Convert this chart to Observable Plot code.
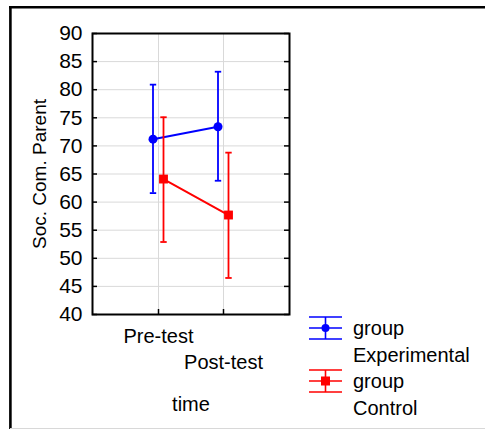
<!DOCTYPE html>
<html>
<head>
<meta charset="utf-8">
<script src="https://cdn.jsdelivr.net/npm/d3@7"></script>
<script src="https://cdn.jsdelivr.net/npm/@observablehq/plot@0.6"></script>
<style>
  html, body { margin: 0; padding: 0; background: white; }
  #chart { position: relative; width: 485px; height: 429px; }
</style>
</head>
<body>
<div id="chart"></div>
<script>
// ---- data ----
const times = ["Pre-test", "Post-test"];
const groups = ["Experimental", "Control"];
const expMean = [71.2, 73.4];
const expLo   = [61.6, 63.8];
const expHi   = [80.9, 83.2];
const ctlMean = [64.1, 57.7];
const ctlLo   = [52.9, 46.5];
const ctlHi   = [75.1, 68.8];
const yTicks  = [40, 45, 50, 55, 60, 65, 70, 75, 80, 85, 90];
const yTitle  = "Soc. Com. Parent";
const xTitle  = "time";

const colors = {Experimental: "#0000ff", Control: "#ff0000"};
const offsets = {Experimental: -5.5, Control: 5};
const symbols = {Experimental: "circle", Control: "square"};
const radii = {Experimental: 4.5, Control: 5};

const expRows = times.map((t, i) => ({time: t, group: "Experimental", mean: expMean[i], lo: expLo[i], hi: expHi[i]}));
const ctlRows = times.map((t, i) => ({time: t, group: "Control", mean: ctlMean[i], lo: ctlLo[i], hi: ctlHi[i]}));

const W = 485, H = 429;
const mL = 92, mR = 196, mT = 33, mB = 115;
const plotW = W - mL - mR, plotH = H - mT - mB;

const capSymbol = {
  draw(ctx, size) {
    const r = Math.sqrt(size / Math.PI);
    ctx.moveTo(-r, 0);
    ctx.lineTo(r, 0);
  }
};

function seriesMarks(rows, g) {
  const c = colors[g], dx = offsets[g];
  return [
    Plot.ruleX(rows, {x: "time", y1: "lo", y2: "hi", stroke: c, strokeWidth: 1.8, dx}),
    Plot.dot(rows, {x: "time", y: "hi", symbol: capSymbol, r: 3.2, stroke: c, strokeWidth: 1.8, dx}),
    Plot.dot(rows, {x: "time", y: "lo", symbol: capSymbol, r: 3.2, stroke: c, strokeWidth: 1.8, dx}),
    Plot.line(rows, {x: "time", y: "mean", stroke: c, strokeWidth: 2, dx}),
    Plot.dot(rows, {x: "time", y: "mean", symbol: symbols[g], r: radii[g], fill: c, stroke: "none", dx})
  ];
}

const font = "'Liberation Sans', Arial, sans-serif";

const chart = Plot.plot({
  width: W,
  height: H,
  marginLeft: mL,
  marginRight: mR,
  marginTop: mT,
  marginBottom: mB,
  style: {fontFamily: font, fontSize: "20px", color: "black", background: "white", overflow: "visible"},
  x: {type: "point", domain: times, padding: 1},
  y: {domain: [40, 90]},
  marks: [
    Plot.gridY(yTicks, {stroke: "#d9d9d9", strokeOpacity: 1}),
    Plot.gridX(times, {stroke: "#d9d9d9", strokeOpacity: 1}),
    Plot.tickY(yTicks, {y: d => d, insetRight: plotW - 5, stroke: "black", strokeWidth: 1.5}),
    Plot.tickY(yTicks, {y: d => d, insetLeft: plotW - 5, stroke: "black", strokeWidth: 1.5}),
    Plot.tickX(times, {x: d => d, insetTop: plotH - 5, stroke: "black", strokeWidth: 1.5}),
    Plot.axisY(yTicks, {tickSize: 0, tickPadding: 10, label: null, fontSize: 21}),
    Plot.axisX([times[0]], {tickSize: 0, tickPadding: 14, label: null, fontSize: 20}),
    Plot.axisX([times[1]], {tickSize: 0, tickPadding: 40, label: null, fontSize: 20}),
    Plot.text([yTitle], {frameAnchor: "left", textAnchor: "middle", rotate: -90, dx: -53, fontSize: 19}),
    Plot.text([xTitle], {frameAnchor: "bottom", textAnchor: "middle", dy: 82, lineAnchor: "top", fontSize: 20}),
    ...seriesMarks(expRows, "Experimental"),
    ...seriesMarks(ctlRows, "Control"),
    Plot.frame({stroke: "black", strokeWidth: 2})
  ]
});

const svg = d3.select(chart);
// outer panel border
svg.append("line").attr("x1", 9).attr("x2", W).attr("y1", 7.3).attr("y2", 7.3)
  .attr("stroke", "black").attr("stroke-width", 2.6);
svg.append("line").attr("x1", 10.4).attr("x2", 10.4).attr("y1", 6).attr("y2", H)
  .attr("stroke", "black").attr("stroke-width", 2.6);
svg.append("line").attr("x1", 10).attr("x2", W).attr("y1", 428.5).attr("y2", 428.5)
  .attr("stroke", "#d8d8d8").attr("stroke-width", 1);

// legend
const leg = svg.append("g").attr("font-family", font).attr("font-size", 20).attr("text-anchor", "start");
const legCenters = [328, 381];
groups.forEach((g, i) => {
  const c = colors[g], cy = legCenters[i], cx = 325.5, hw = 16.5, hh = 11;
  const s = leg.append("g").attr("stroke", c).attr("stroke-width", 1.6).attr("fill", "none");
  [cy - hh, cy, cy + hh].forEach(y => s.append("line").attr("x1", cx - hw).attr("x2", cx + hw).attr("y1", y).attr("y2", y));
  s.append("line").attr("x1", cx).attr("x2", cx).attr("y1", cy - hh).attr("y2", cy + hh);
  if (symbols[g] === "circle") leg.append("circle").attr("cx", cx).attr("cy", cy).attr("r", 4).attr("fill", c);
  else leg.append("rect").attr("x", cx - 4.5).attr("y", cy - 4.5).attr("width", 9).attr("height", 9).attr("fill", c);
  leg.append("text").attr("x", 353).attr("y", cy + 7).attr("fill", "black").attr("text-anchor", "start").text("group");
  leg.append("text").attr("x", 353).attr("y", cy + 34).attr("fill", "black").attr("text-anchor", "start").text(g);
});

document.getElementById("chart").appendChild(chart);
</script>
</body>
</html>
